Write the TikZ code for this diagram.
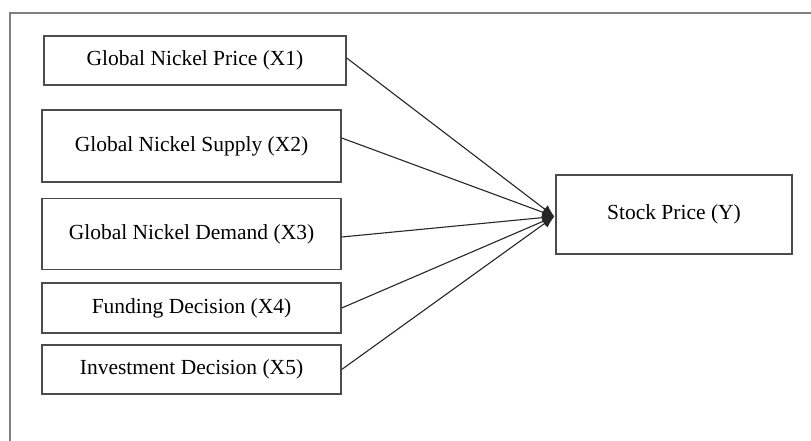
\documentclass[tikz,border=0pt]{standalone}
\usepackage{fontspec}
\setmainfont{Liberation Serif}
\usetikzlibrary{arrows.meta,calc}
\begin{document}
\begin{tikzpicture}[x=1pt,y=-1pt,
  var/.style={draw=black!70,line width=1.4pt,inner sep=0pt,font=\fontsize{21.5}{25}\selectfont},
  conn/.style={draw=black!85,line width=1.1pt,-{Latex[length=12pt,width=10pt]}},
  frame/.style={draw=black!50,line width=2pt}]
\useasboundingbox (0,0) rectangle (811,441);
\draw[frame] (10,441) -- (10,13) -- (811,13);
\node[var,minimum width=302pt,minimum height=49pt] (x1) at (195,60.5) {Global Nickel Price (X1)};
\node[var,minimum width=299pt,minimum height=72pt] (x2) at (191.5,146) {Global Nickel Supply (X2)};
\node[var,minimum width=299pt,minimum height=71pt] (x3) at (191.5,234) {Global Nickel Demand (X3)};
\node[var,minimum width=299pt,minimum height=50pt] (x4) at (191.5,308) {Funding Decision (X4)};
\node[var,minimum width=299pt,minimum height=49pt] (x5) at (191.5,369.5) {Investment Decision (X5)};
\node[var,minimum width=236pt,minimum height=79pt] (y) at (674,214.5) {Stock Price (Y)};
\coordinate (tip) at ($(y.west)+(-1,2)$);
\draw[conn] ($(x1.east)+(0,-2.5)$) -- (tip);
\draw[conn] ($(x2.east)+(0,-8)$) -- (tip);
\draw[conn] ($(x3.east)+(0,3)$) -- (tip);
\draw[conn] (x4.east) -- (tip);
\draw[conn] (x5.east) -- (tip);
\end{tikzpicture}
\end{document}
